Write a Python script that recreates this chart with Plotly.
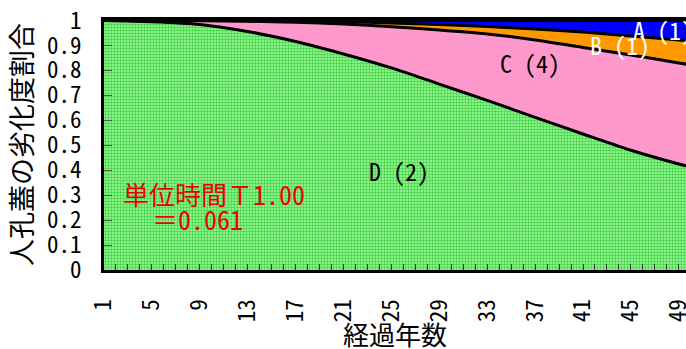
import plotly.graph_objects as go

years = [1, 5, 9, 13, 17, 21, 25, 29, 33, 37, 41, 45, 49, 50]
grade_D = [1.0, 0.995, 0.984, 0.956, 0.916, 0.866, 0.81, 0.745, 0.68, 0.612, 0.545, 0.48, 0.425, 0.413]
grade_C = [0.0, 0.005, 0.015, 0.041, 0.077, 0.12, 0.165, 0.217, 0.266, 0.31, 0.347, 0.382, 0.405, 0.409]
grade_B = [0.0, 0.0, 0.001, 0.002, 0.005, 0.009, 0.015, 0.022, 0.03, 0.044, 0.062, 0.076, 0.092, 0.096]
grade_A = [0.0, 0.0, 0.0, 0.001, 0.002, 0.005, 0.01, 0.016, 0.024, 0.034, 0.046, 0.062, 0.078, 0.082]

x_ticks = [1, 5, 9, 13, 17, 21, 25, 29, 33, 37, 41, 45, 49]
y_ticks = [0, 0.1, 0.2, 0.3, 0.4, 0.5, 0.6, 0.7, 0.8, 0.9, 1]
y_tick_text = ["0", "0.1", "0.2", "0.3", "0.4", "0.5", "0.6", "0.7", "0.8", "0.9", "1"]

FONT = "Noto Sans Mono CJK JP, Noto Sans CJK JP, DejaVu Sans Mono"

fig = go.Figure()
line = dict(color="black", width=3, shape="spline", smoothing=0.8)
fig.add_trace(go.Scatter(x=years, y=grade_D, stackgroup="s", mode="lines", line=line,
                         fillcolor="#66e066",
                         fillpattern=dict(shape=".", bgcolor="#a3f7a3", fgcolor="#40d840",
                                          size=3, solidity=0.5, fillmode="replace"),
                         name="D"))
fig.add_trace(go.Scatter(x=years, y=grade_C, stackgroup="s", mode="lines", line=line,
                         fillcolor="#ff99cc", name="C"))
fig.add_trace(go.Scatter(x=years, y=grade_B, stackgroup="s", mode="lines", line=line,
                         fillcolor="#ff9900", name="B"))
fig.add_trace(go.Scatter(x=years, y=grade_A, stackgroup="s", mode="lines", line=line,
                         fillcolor="#0000ff", name="A"))

def ann(x, y, text, color, size=24, xanchor="center", xref="x", yref="y", angle=0):
    fig.add_annotation(x=x, y=y, xref=xref, yref=yref, text=text, showarrow=False,
                       xanchor=xanchor, yanchor="middle", textangle=angle,
                       font=dict(family=FONT, size=size, color=color))

ann(25.6, 0.40, "D (2)", "black")
ann(36.6, 0.83, "C (4)", "black")
ann(44.1, 0.904, "B (1)", "white")
ann(45.0, 0.964, "A (1)", "white", xanchor="left")
ann(2.4, 0.308, "単位時間Ｔ1.00", "#ee0000", size=26, xanchor="left")
ann(4.8, 0.208, "＝0.061", "#ee0000", size=26, xanchor="left")
# axis titles
ann(0.5, -0.252, "経過年数", "black", size=26, xref="paper", yref="paper")
ann(-0.1443, 0.5, "人孔蓋の劣化度割合", "black", size=27, xref="paper", yref="paper", angle=-90)

fig.update_layout(
    width=686, height=349,
    margin=dict(l=104, r=0, t=20, b=79),
    paper_bgcolor="white", plot_bgcolor="white",
    showlegend=False,
    font=dict(family=FONT, size=24, color="black"),
)
fig.update_xaxes(
    range=[1, 49.6], tickmode="array", tickvals=x_ticks, tickangle=-90,
    ticks="inside", ticklen=6, tickcolor="#333", tickwidth=1,
    minor=dict(dtick=1, tick0=1, ticks="inside", ticklen=6, tickcolor="#333"),
    showgrid=False, zeroline=False, automargin=False,
    showline=True, linecolor="black", linewidth=3, mirror=True,
    tickfont=dict(family=FONT, size=23),
    ticklabelstandoff=17, ticklabeloverflow="allow",
)
fig.update_yaxes(
    range=[0, 1.002], tickmode="array", tickvals=y_ticks, ticktext=y_tick_text,
    ticks="inside", ticklen=8, tickcolor="#555", tickwidth=1,
    showgrid=False, zeroline=False, automargin=False,
    showline=True, linecolor="black", linewidth=3, mirror=False,
    tickfont=dict(family=FONT, size=23),
    ticklabelstandoff=15,
)

fig.write_html("out.html", config={"displayModeBar": False},
               post_script="document.body.style.margin='0px';")
